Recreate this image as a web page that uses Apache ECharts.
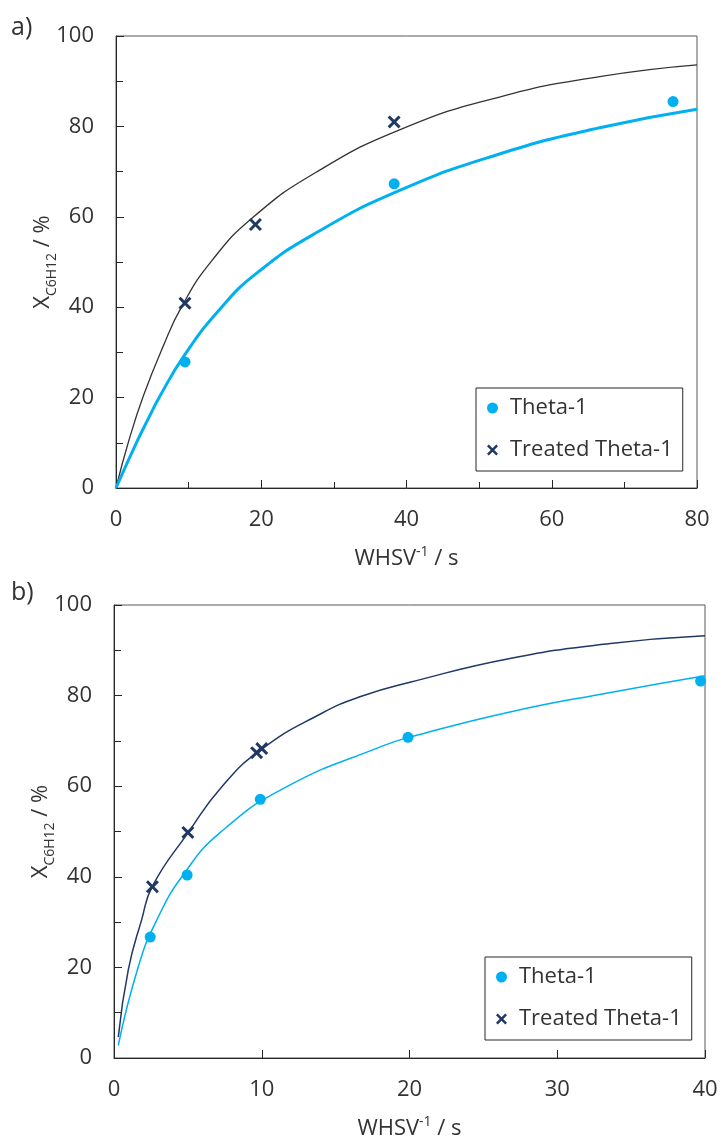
<!DOCTYPE html>
<html>
<head>
<meta charset="utf-8">
<script src="https://cdn.jsdelivr.net/npm/echarts@6/dist/echarts.min.js"></script>
<style>
html,body{margin:0;padding:0;background:#ffffff;}
#chart{width:721px;height:1142px;}
</style>
</head>
<body>
<div id="chart"></div>
<script>
// ---------- data ----------
// Panel a)
const aThetaX   = [9.5, 38.3, 76.7];
const aThetaY   = [27.9, 67.3, 85.5];
const aTreatedX = [9.5, 19.2, 38.3];
const aTreatedY = [40.9, 58.3, 81.0];
// fitted curves
const aFitThetaX   = [0, 2.9, 4.5, 6.0, 9.43, 14, 19.2, 27.5, 39.3, 52.8, 66.6, 80];
const aFitThetaY   = [0, 10.3, 15.5, 20.2, 29.4, 39.0, 47.3, 56.4, 66.0, 73.9, 79.7, 83.8];
const aFitTreatedX = [0, 1.77, 3.8, 6.4, 9.1, 13.2, 18.8, 27.5, 39.3, 52.8, 66.6, 80];
const aFitTreatedY = [0, 10.5, 20.5, 31.0, 40.3, 50.3, 59.8, 69.8, 79.4, 86.5, 91.0, 93.6];

// Panel b)
const bThetaX   = [2.45, 4.95, 9.9, 19.9, 39.7];
const bThetaY   = [26.7, 40.4, 57.1, 70.8, 83.2];
const bTreatedX = [2.6, 5.0, 9.65, 10.0];
const bTreatedY = [37.8, 49.8, 67.4, 68.3];
const bFitThetaX   = [0.29, 1.64, 2.9, 4.7, 7.2, 11.7, 18.2, 20.1, 26.8, 33.6, 40];
const bFitThetaY   = [2.8, 20.1, 30.5, 40.5, 49.8, 59.9, 68.9, 70.9, 76.4, 80.7, 84.4];
const bFitTreatedX = [0.29, 0.97, 1.87, 2.61, 5.03, 7.3, 10.0, 14.0, 16.8, 20.1, 26.8, 33.6, 40];
const bFitTreatedY = [4.6, 19.5, 30.5, 38.0, 49.8, 59.9, 68.2, 76.0, 79.9, 83.0, 88.2, 91.5, 93.2];

// axes / labels
const aXMax = 80, aXStep = 20;
const bXMax = 40, bXStep = 10;
const yMax = 100, yStep = 20;
const panelLabels = ['a)', 'b)'];
const legendNames = ['Theta-1', 'Treated Theta-1'];
const yTitle = '{x|X}{sub|C6H12}{x| / %}';
const xTitle = '{n|WHSV}{sup|-1}{n| / s}';

// ---------- styling ----------
const FONT = '"Open Sans", "Noto Sans", sans-serif';
const TXT = '#333333';
const LIGHT = '#00B0F0';
const NAVY = '#1F3864';
const CROSS = 'path://M1.6,0 L5,3.4 L8.4,0 L10,1.6 L6.6,5 L10,8.4 L8.4,10 L5,6.6 L1.6,10 L0,8.4 L3.4,5 L0,1.6 Z';

const zip = (xs, ys) => xs.map((x, i) => [x, ys[i]]);

function xAxisCfg(grid, max, step, minor) {
  return {
    type: 'value', gridIndex: grid, min: 0, max: max, interval: step,
    name: xTitle, nameLocation: 'middle', nameGap: 57, nameMoveOverlap: false,
    nameTextStyle: {
      rich: {
        n: {fontSize: 22, fontFamily: FONT, color: TXT, verticalAlign: 'bottom', lineHeight: 25},
        sup: {fontSize: 14, fontFamily: FONT, color: TXT, verticalAlign: 'top', lineHeight: 14}
      }
    },
    axisLine: {show: true, lineStyle: {color: '#262626', width: 1}},
    axisTick: {show: true, inside: true, length: 8, lineStyle: {color: '#262626'}},
    minorTick: {show: minor, splitNumber: 2, length: 6, lineStyle: {color: '#262626'}},
    axisLabel: {margin: 21, fontSize: 22, fontFamily: FONT, color: TXT},
    splitLine: {show: false}, minorSplitLine: {show: false}
  };
}
function yAxisCfg(grid) {
  return {
    type: 'value', gridIndex: grid, min: 0, max: yMax, interval: yStep,
    name: yTitle, nameLocation: 'middle', nameGap: 57, nameRotate: 90, nameMoveOverlap: false,
    nameTextStyle: {
      rich: {
        x: {fontSize: 22, fontFamily: FONT, color: TXT, verticalAlign: 'top', lineHeight: 27},
        sub: {fontSize: 14, fontFamily: FONT, color: TXT, verticalAlign: 'bottom', lineHeight: 14}
      }
    },
    axisLine: {show: true, lineStyle: {color: '#262626', width: 1}},
    axisTick: {show: true, inside: true, length: 8, lineStyle: {color: '#262626'}},
    minorTick: {show: true, splitNumber: 2, length: 7, lineStyle: {color: '#262626'}},
    axisLabel: {margin: 22, fontSize: 22, fontFamily: FONT, color: TXT},
    splitLine: {show: false}, minorSplitLine: {show: false}
  };
}
function legendCfg(left, top) {
  return {
    data: legendNames, orient: 'vertical', left: left, top: top,
    itemWidth: 11, itemHeight: 11, itemGap: 20,
    padding: [9, 10, 10, 11],
    borderColor: '#262626', borderWidth: 1, backgroundColor: '#fff',
    textStyle: {fontSize: 22, fontFamily: FONT, color: TXT, padding: [0, 0, 0, 7]},
    selectedMode: false
  };
}
function scatter(name, grid, data, isCross) {
  return {
    name: name, type: 'scatter', xAxisIndex: grid, yAxisIndex: grid,
    data: data, symbol: isCross ? CROSS : 'circle', symbolSize: isCross ? 13 : 11,
    itemStyle: {color: isCross ? NAVY : LIGHT, opacity: 1}, z: 5
  };
}
function curve(name, grid, data, color, width) {
  return {
    name: name, type: 'line', xAxisIndex: grid, yAxisIndex: grid, data: data,
    showSymbol: false, symbol: 'none', smooth: 0.5,
    lineStyle: {color: color, width: width}, z: 3
  };
}

const option = {
  animation: false,
  backgroundColor: '#ffffff',
  title: [
    {text: panelLabels[0], left: 11, top: 15, padding: 0, textStyle: {fontSize: 25, fontWeight: 'normal', fontFamily: FONT, color: TXT}},
    {text: panelLabels[1], left: 11, top: 580, padding: 0, textStyle: {fontSize: 25, fontWeight: 'normal', fontFamily: FONT, color: TXT}}
  ],
  grid: [
    {left: 116, top: 36, width: 581, height: 452, show: true, borderColor: '#595959', borderWidth: 1, backgroundColor: 'transparent'},
    {left: 114, top: 605, width: 591, height: 453, show: true, borderColor: '#595959', borderWidth: 1, backgroundColor: 'transparent'}
  ],
  xAxis: [xAxisCfg(0, aXMax, aXStep, true), xAxisCfg(1, bXMax, bXStep, false)],
  yAxis: [yAxisCfg(0), yAxisCfg(1)],
  legend: [legendCfg(476, 388), legendCfg(485, 957)],
  series: [
    curve('fitA-treated', 0, zip(aFitTreatedX, aFitTreatedY), '#333333', 1.3),
    curve('fitA-theta', 0, zip(aFitThetaX, aFitThetaY), LIGHT, 3),
    scatter('Theta-1', 0, zip(aThetaX, aThetaY), false),
    scatter('Treated Theta-1', 0, zip(aTreatedX, aTreatedY), true),
    curve('fitB-treated', 1, zip(bFitTreatedX, bFitTreatedY), NAVY, 1.5),
    curve('fitB-theta', 1, zip(bFitThetaX, bFitThetaY), LIGHT, 1.5),
    scatter('Theta-1', 1, zip(bThetaX, bThetaY), false),
    scatter('Treated Theta-1', 1, zip(bTreatedX, bTreatedY), true)
  ]
};

const chart = echarts.init(document.getElementById('chart'), null, {renderer: 'canvas'});
chart.setOption(option);
</script>
</body>
</html>
